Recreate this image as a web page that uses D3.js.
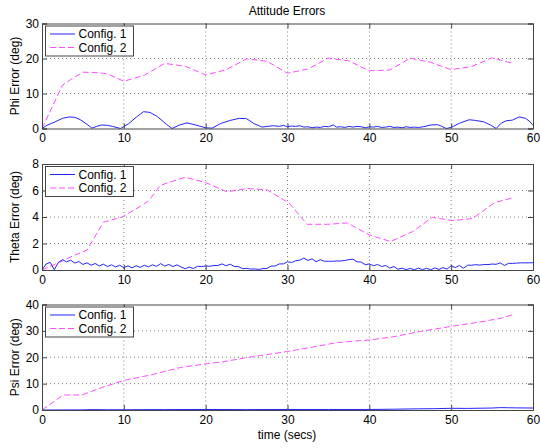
<!DOCTYPE html>
<html>
<head>
<meta charset="utf-8">
<script src="https://cdn.jsdelivr.net/npm/d3@7"></script>
<style>
  html, body { margin: 0; padding: 0; background: #fff; }
  svg text { font-family: "Liberation Sans", Arial, sans-serif; fill: #000; }
</style>
</head>
<body>
<svg id="chart" width="540" height="448"></svg>
<script>
// ---- data ----------------------------------------------------------------
const seriesNames = ["Config. 1", "Config. 2"];
const xTicks = [0, 10, 20, 30, 40, 50, 60];

// Phi error
const phiTime1 = [0,0.6,1.6,2.5,3.3,4,4.7,5.5,6.1,6.7,7.3,8,8.6,9.6,10.6,11.5,12.4,13.2,14.1,15.2,15.9,16.8,17.7,18.8,20,20.8,21.8,23,24.1,25,25.9,26.9,27.5,28.3,29,29.5,30,30.5,31,31.5,32,32.5,33,33.5,34,34.5,35,35.6,36,36.5,37,37.5,38,38.5,39,39.5,40,40.5,41,41.5,42,42.5,43,43.5,44,44.5,45,45.5,46,46.6,47.5,48.3,48.8,49.4,50,51,52.2,53,54,54.8,55.5,56.1,56.7,57.5,58.3,59.1,59.6,60];
const phiConfig1 = [0,0.9,1.9,2.9,3.3,3.2,2.5,1.2,0.1,0.6,1.0,0.9,0.6,0.0,1.4,3.2,4.8,4.6,3.4,1.2,0.0,1.0,1.6,1.0,0.2,0.1,1.4,2.3,2.9,2.8,1.4,0.4,0.6,0.8,0.6,0.9,0.5,0.7,0.6,0.8,0.4,0.5,0.2,0.4,0.3,0.6,0.5,1.0,0.4,0.5,0.3,0.6,0.4,0.6,0.5,0.2,0.5,0.4,0.6,0.3,0.4,0.6,0.3,0.4,0.2,0.5,0.3,0.4,0.3,0.5,1.0,1.1,0.7,0.0,0.3,1.5,2.5,2.3,1.9,1.0,0.0,1.5,2.2,2.4,3.3,2.9,2.0,0.9];
const phiTime2 = [0,2.5,3.5,5,7,8,10,12.5,15,17.5,20,22.5,25,27.5,30,32.5,35,37.5,40,42.5,45,47.5,50,52.5,55,57.7];
const phiConfig2 = [0,12.4,14.0,16.1,15.9,15.6,13.5,15.2,18.6,17.8,15.3,16.8,19.9,19.2,15.8,17.0,20.1,19.3,16.5,16.7,20.1,18.9,16.8,17.7,20.2,18.5];

// Theta error (Config. 1 sampled every half second)
const thetaTime1 = d3.range(0, 60.01, 0.5);
const thetaConfig1 = [
  0.00,0.45,0.58,0.02,0.58,0.78,0.62,0.74,0.52,0.64,
  0.42,0.54,0.36,0.49,0.31,0.44,0.26,0.39,0.23,0.36,
  0.18,0.31,0.16,0.32,0.20,0.36,0.24,0.39,0.28,0.48,
  0.30,0.42,0.26,0.39,0.22,0.10,0.22,0.11,0.28,0.26,
  0.30,0.28,0.34,0.34,0.46,0.32,0.44,0.26,0.26,0.10,
  0.12,0.07,0.08,0.05,0.10,0.12,0.30,0.30,0.46,0.46,
  0.62,0.56,0.70,0.74,0.90,0.72,0.84,0.62,0.78,0.66,
  0.66,0.66,0.68,0.68,0.72,0.78,0.82,0.62,0.60,0.40,
  0.46,0.32,0.42,0.26,0.34,0.14,0.26,0.06,0.14,0.03,
  0.12,0.02,0.14,0.03,0.13,0.02,0.16,0.04,0.18,0.07,
  0.32,0.18,0.34,0.13,0.36,0.36,0.40,0.37,0.41,0.41,
  0.45,0.43,0.54,0.34,0.50,0.50,0.52,0.54,0.54,0.54,
  0.55];
const thetaTime2 = [0,2.2,3.9,5.5,7.5,9.8,12,13,14.5,15.5,17.5,20,22.6,25.1,27.5,30.2,32.4,34.9,37.3,40,42.6,45.3,47.7,50.2,52.6,55.3,57.7];
const thetaConfig2 = [0,0.6,1.1,1.5,3.6,4.0,4.8,5.2,6.4,6.6,7.0,6.6,5.9,6.15,6.05,5.05,3.45,3.45,3.55,2.65,2.15,2.9,3.97,3.73,3.88,5.08,5.48];

// Psi error
const psiTime1 = [0,5,6,8,10,15,20,25,30,35,40,43,46,48,50,52,55,56,57,58,60];
const psiConfig1 = [0,0.05,0.15,0.1,0.1,0.15,0.2,0.15,0.2,0.2,0.2,0.3,0.45,0.5,0.65,0.6,0.75,0.9,0.85,0.8,0.75];
const psiTime2 = [0,2.6,4.9,7.1,10,13.3,16.9,20.2,22,24.7,27.9,30,33,36.1,40.2,43,46.3,50.2,53.2,56.1,57.7];
const psiConfig2 = [0,5.7,5.7,8.3,11.2,13.3,16.1,17.6,18.2,19.7,21.2,22.2,23.8,25.6,26.6,27.8,29.8,31.8,33.2,34.8,36.3];

const panels = [
  { label: "Phi Error (deg)",   yMax: 30, yTicks: [0,10,20,30],
    s1: [phiTime1, phiConfig1],     s2: [phiTime2, phiConfig2],     top: 23.5,  bottom: 128.5 },
  { label: "Theta Error (deg)", yMax: 8,  yTicks: [0,2,4,6,8],
    s1: [thetaTime1, thetaConfig1], s2: [thetaTime2, thetaConfig2], top: 164,   bottom: 270 },
  { label: "Psi Error (deg)",   yMax: 40, yTicks: [0,10,20,30,40],
    s1: [psiTime1, psiConfig1],     s2: [psiTime2, psiConfig2],     top: 304.5, bottom: 410 }
];

// ---- drawing ---------------------------------------------------------------
const svg = d3.select("#chart");
const x = d3.scaleLinear().domain([0, 60]).range([42, 533]);
const blue = "#2424ff", magenta = "#ff4cff";
const frameColor = "#444", gridColor = "#808080";

svg.append("text").attr("x", 287).attr("y", 15)
  .attr("text-anchor", "middle").attr("font-size", 12).text("Attitude Errors");

panels.forEach(p => {
  const y = d3.scaleLinear().domain([0, p.yMax]).range([p.bottom, p.top]);
  const g = svg.append("g");
  const [x0, x1] = x.range();

  // grid
  g.selectAll(".gx").data(xTicks.slice(1, -1)).join("line")
    .attr("x1", d => x(d)).attr("x2", d => x(d))
    .attr("y1", p.top).attr("y2", p.bottom)
    .attr("stroke", gridColor).attr("stroke-width", 1).attr("stroke-dasharray", "1,3");
  g.selectAll(".gy").data(p.yTicks.slice(1, -1)).join("line")
    .attr("x1", x0).attr("x2", x1)
    .attr("y1", d => y(d)).attr("y2", d => y(d))
    .attr("stroke", gridColor).attr("stroke-width", 1).attr("stroke-dasharray", "1,3");

  // series
  const line = d3.line().x(d => x(d[0])).y(d => y(d[1]));
  const pts2 = p.s2[0].map((t, i) => [t, p.s2[1][i]]);
  const pts1 = p.s1[0].map((t, i) => [t, p.s1[1][i]]);
  g.append("path").datum(pts2).attr("d", line).attr("fill", "none")
    .attr("stroke", magenta).attr("stroke-width", 1).attr("stroke-dasharray", "6,3");
  g.append("path").datum(pts1).attr("d", line).attr("fill", "none")
    .attr("stroke", blue).attr("stroke-width", 1);

  // axes with inward ticks on all four sides
  const tickLen = 5;
  const bottomAxis = d3.axisBottom(x).tickValues(xTicks).tickSize(-tickLen).tickPadding(5);
  const topAxis = d3.axisTop(x).tickValues(xTicks).tickSize(-tickLen).tickFormat("");
  const leftAxis = d3.axisLeft(y).tickValues(p.yTicks).tickSize(-tickLen).tickPadding(3);
  const rightAxis = d3.axisRight(y).tickValues(p.yTicks).tickSize(-tickLen).tickFormat("");

  [[bottomAxis, `translate(0,${p.bottom})`], [topAxis, `translate(0,${p.top})`],
   [leftAxis, `translate(${x0},0)`], [rightAxis, `translate(${x1},0)`]].forEach(([ax, tr]) => {
    const a = g.append("g").attr("transform", tr).call(ax);
    a.select(".domain").attr("stroke", frameColor);
    a.selectAll(".tick line").attr("stroke", frameColor);
    a.selectAll(".tick text").attr("font-size", 12).attr("fill", "#000")
      .attr("font-family", "Liberation Sans, Arial, sans-serif");
  });

  // y label
  svg.append("text")
    .attr("transform", `translate(19,${(p.top + p.bottom) / 2}) rotate(-90)`)
    .attr("text-anchor", "middle").attr("font-size", 12).text(p.label);

  // legend
  const lx = 45, ly = p.top + 2;
  const lg = g.append("g");
  lg.append("rect").attr("x", lx + 0.5).attr("y", ly + 0.5).attr("width", 88).attr("height", 30)
    .attr("fill", "#fff").attr("stroke", frameColor);
  seriesNames.forEach((name, i) => {
    const ry = ly + 8.5 + i * 13.5;
    lg.append("line").attr("x1", lx + 5).attr("x2", lx + 30).attr("y1", ry).attr("y2", ry)
      .attr("stroke", i === 0 ? blue : magenta).attr("stroke-width", 1)
      .attr("stroke-dasharray", i === 0 ? null : "6,3");
    lg.append("text").attr("x", lx + 33.5).attr("y", ry + 4.3)
      .attr("font-size", 12).text(name);
  });
});

svg.append("text").attr("x", 287).attr("y", 439)
  .attr("text-anchor", "middle").attr("font-size", 12).text("time (secs)");
</script>
</body>
</html>
